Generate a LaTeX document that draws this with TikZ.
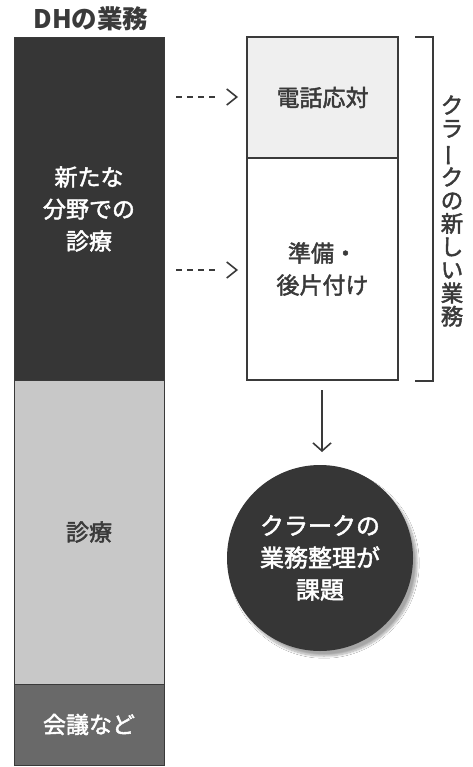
\documentclass[tikz,border=0pt]{standalone}
\usepackage{fontspec}
\usepackage{graphicx}
\setmainfont{Noto Sans CJK JP}
\newfontfamily\jpmed{Noto Sans CJK JP}[FakeBold=2]
\usetikzlibrary{arrows.meta,shadows.blur}
\definecolor{dkfill}{HTML}{363636}
\definecolor{ltfill}{HTML}{C8C8C8}
\definecolor{mdfill}{HTML}{696969}
\definecolor{paperfill}{HTML}{EFEFEF}
\definecolor{ink}{HTML}{3A3A3A}
\tikzset{
  x=1pt,y=-1pt,
  barbox/.style={draw=ink,line width=1pt,minimum width=150pt,inner sep=0pt,align=center,
     font=\jpmed\fontsize{23}{32}\selectfont},
  rbox/.style={draw=ink,line width=1.3pt,minimum width=151pt,inner sep=0pt,align=center,
     font=\jpmed\fontsize{23}{32}\selectfont,text=ink},
  dasharrow/.style={draw=ink,line width=1.6pt,
     dash pattern=on 6pt off 5pt on 6pt off 5pt on 6pt off 5pt on 6pt off 40pt,
     -{Straight Barb[length=10pt,width=16pt,line width=1.6pt]}},
  solidarrow/.style={draw=ink,line width=1.6pt,
     -{Straight Barb[length=8pt,width=18pt,line width=1.6pt]}},
}
\begin{document}
\begin{tikzpicture}
\useasboundingbox (0,0) rectangle (472,767);
\fill[white] (0,0) rectangle (472,767);
% title
\node[font=\fontsize{25.5}{30}\selectfont\bfseries,text=ink,inner sep=0pt] (title) at (91,19) {DHの業務};
% left bar
\node[barbox,fill=dkfill,minimum height=342pt,text=white] (newwork) at (89,209)
  {新たな\\分野での\\診療};
\node[barbox,fill=ltfill,minimum height=304pt,text=ink] (shinryo) at (89,532) {診療};
\node[barbox,fill=mdfill,minimum height=81pt,text=white] (kaigi) at (89,724.5) {会議など};
% right boxes
\node[rbox,fill=paperfill,minimum height=121pt] (denwa) at (322.5,97.5) {電話応対};
\node[rbox,fill=white,minimum height=222pt] (junbi) at (322.5,269) {準備・\\後片付け};
% dashed arrows
\coordinate (a1s) at (176,97);
\coordinate (a1e) at (238,97);
\coordinate (a2s) at (176,270);
\coordinate (a2e) at (238,270);
\draw[dasharrow] (a1s) -- (a1e);
\draw[dasharrow] (a2s) -- (a2e);
% bracket
\coordinate (b1) at (415,37);
\coordinate (b2) at (433,37);
\coordinate (b3) at (433,381);
\coordinate (b4) at (415,381);
\draw[ink,line width=1.3pt] (b1) -- (b2) -- (b3) -- (b4);
\node[font=\jpmed\fontsize{22.5}{23.2}\selectfont,text=ink,align=center,inner sep=0pt] (clerk) at (452,211)
  {ク\\ラ\\\rotatebox[origin=c]{90}{ー}\\ク\\の\\新\\し\\い\\業\\務};
% result circle
\node[circle,fill=dkfill,minimum size=186pt,inner sep=0pt,align=center,text=white,
  font=\jpmed\fontsize{24}{32}\selectfont,
  blur shadow={shadow xshift=4pt,shadow yshift=-5pt,shadow blur steps=12,shadow opacity=35}]
  (kadai) at (320,558) {クラークの\\業務整理が\\課題};
\coordinate (d1) at (322,390);
\coordinate (d2) at (322,452);
\draw[solidarrow] (d1) -- (d2);
\end{tikzpicture}
\end{document}
